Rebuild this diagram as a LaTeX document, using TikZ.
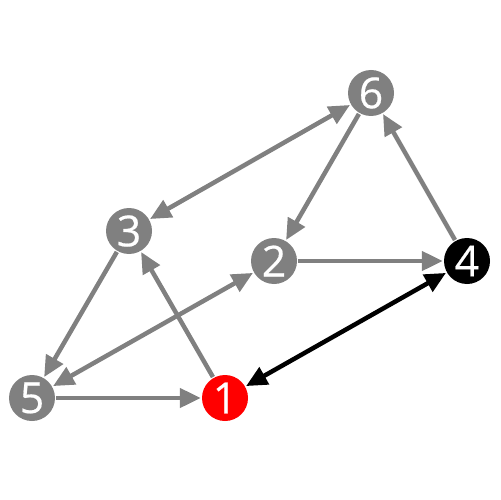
\documentclass[tikz,border=0pt]{standalone}
\usepackage{fontspec}
\setmainfont{Open Sans}
\newfontfamily\nodefont[FakeBold=0.4]{Open Sans}
\usetikzlibrary{arrows.meta}
\definecolor{eg}{HTML}{808080}
\begin{document}
\begin{tikzpicture}[x=1bp,y=-1bp,
  vert/.style={circle,fill=eg,minimum size=46bp,inner sep=0pt,text=white,font=\nodefont\fontsize{43}{43}\selectfont},
  edge/.style={draw=eg,line width=4.5bp,-{Triangle[length=21bp,width=19bp]},shorten >=1bp,shorten <=1bp},
  bedge/.style={edge,{Triangle[length=21bp,width=19bp]}-{Triangle[length=21bp,width=19bp]}}]
\useasboundingbox (0,0) rectangle (500,500);
\node[vert] (n6) at (371,93) {6};
\node[vert] (n3) at (129,231) {3};
\node[vert] (n2) at (274,261) {2};
\node[vert,fill=black] (n4) at (467,261) {4};
\node[vert] (n5) at (32,398) {5};
\node[vert,fill=red] (n1) at (225,398) {1};
\draw[bedge] (n3) -- (n6);
\draw[edge] (n6) -- (n2);
\draw[edge] (n4) -- (n6);
\draw[edge] (n2) -- (n4);
\draw[edge] (n1) -- (n3);
\draw[edge] (n3) -- (n5);
\draw[bedge] (n5) -- (n2);
\draw[edge] (n5) -- (n1);
\draw[bedge,draw=black] (n1) -- (n4);
\end{tikzpicture}
\end{document}
